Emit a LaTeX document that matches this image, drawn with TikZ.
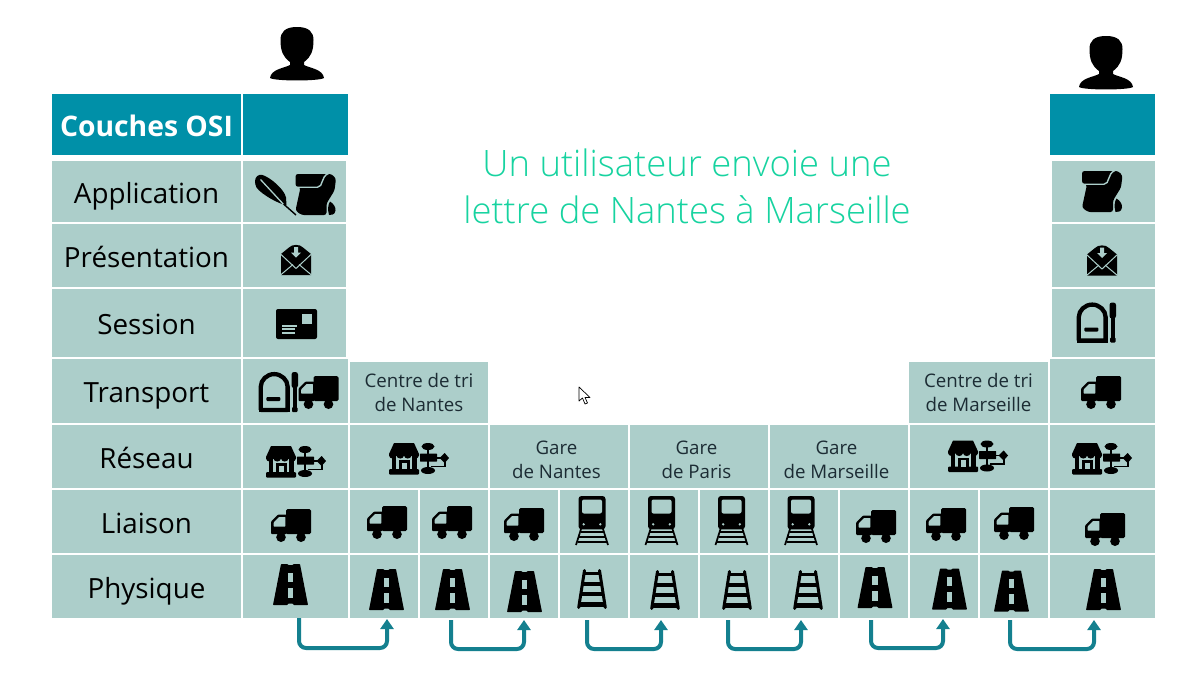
\documentclass[tikz,border=0pt]{standalone}
\usepackage{fontspec}
\setmainfont{Open Sans}
\newfontfamily\lightf{Open Sans Light}
\usetikzlibrary{arrows.meta}
\definecolor{cellc}{HTML}{ACCECA}
\definecolor{headc}{HTML}{0090A8}
\definecolor{titlec}{HTML}{17D3A0}
\definecolor{flowc}{HTML}{14808F}
\definecolor{smallc}{HTML}{1C2C34}
\newcommand{\cellbox}[6][]{%
  \pgfmathsetmacro{\cw}{#4-#2}\pgfmathsetmacro{\ch}{#5-#3}%
  \pgfmathsetmacro{\cx}{(#2+#4)/2}\pgfmathsetmacro{\cy}{(#3+#5)/2}%
  \node[boxbase,minimum width=\cw pt,minimum height=\ch pt] (#2-#3) at (\cx,\cy) {};
  \node[inner sep=0pt,align=center,text=black,#1] (t#2-#3) at (\cx,\cy) {#6};}
\tikzset{
  boxbase/.style={fill=cellc,inner sep=0pt,outer sep=0pt},
  headlab/.style={text=white,font=\fontsize{28.3}{30}\selectfont\bfseries,yshift=-1pt},
  biglab/.style={font=\fontsize{27.8}{30}\selectfont,text height=25pt,text depth=5pt,yshift=-1.5pt},
  smalllab/.style={text=smallc,font=\fontsize{18.7}{24}\selectfont},
  garelab/.style={text=smallc,font=\fontsize{18.7}{24}\selectfont,yshift=-3pt,xshift=-2.5pt},
  flow/.style={draw=flowc,line width=4pt,rounded corners=7pt,-{Triangle[length=10pt,width=13pt]}},
  pics/truck/.style={code={
    \fill[rounded corners=1.5pt] (-5,-16.5) rectangle (20,8.5);
    \fill[rounded corners=1pt] (-20,-4) -- (-20,8.5) -- (-4,8.5) -- (-4,-11) -- (-13,-11) -- cycle;
    \fill[cellc,rounded corners=.5pt] (-17.3,-3) -- (-17.3,1) -- (-5.7,1) -- (-5.7,-8.5) -- (-12,-8.5) -- cycle;
    \fill (-10,11.7) circle (4.8);
    \fill (10,11.7) circle (4.8);
  }},
  pics/road/.style={code={
    \fill[rounded corners=.6pt] (-9.5,-20.5) -- (-3,-20.5) -- (-2.5,-19.5) -- (2.5,-19.5) -- (3,-20.5) -- (9.5,-20.5)
      -- (17.5,20.5) -- (3,20.5) -- (2.5,19) -- (-2.5,19) -- (-3,20.5) -- (-17.5,20.5) -- cycle;
    \fill[cellc] (-2.6,-12) rectangle (2.6,-3);
    \fill[cellc] (-2.6,3) rectangle (2.6,13);
  }},
  pics/rails/.style={code={
    \draw[line width=3pt,line cap=round] (-7.5,-18.5) -- (-13.3,18.5);
    \draw[line width=3pt,line cap=round] (7.5,-18.5) -- (13.3,18.5);
    \fill (-8,-16.7) rectangle (8,-14.2);
    \fill (-9,-6.7) rectangle (9,-2.9);
    \fill (-10.5,3.2) rectangle (10.5,7);
    \fill (-12,13.2) rectangle (12,18);
  }},
  pics/train/.style={code={
    \fill[rounded corners=3pt] (-13.5,-24.5) rectangle (13.5,8.8);
    \fill[cellc,rounded corners=2pt] (-10,-21) rectangle (10,-7);
    \fill[cellc] (-8.3,3.8) circle (1.3);
    \fill[cellc] (8.3,3.8) circle (1.3);
    \draw[line width=1.7pt] (-11,8.5) -- (-16,24.5);
    \draw[line width=1.7pt] (11,8.5) -- (16,24.5);
    \fill (-11.5,10.2) rectangle (11.5,12);
    \fill (-13,15) rectangle (13,17);
    \fill (-14.5,20) rectangle (14.5,22.3);
  }},
  pics/shop/.style={code={
    \fill (-25,-16) -- (-5,-16) -- (0,-5) -- (0,-3.5) arc[start angle=0,end angle=180,x radius=3.75,y radius=3]
       arc[start angle=0,end angle=180,x radius=3.75,y radius=3]
       arc[start angle=0,end angle=180,x radius=3.75,y radius=3]
       arc[start angle=0,end angle=180,x radius=3.75,y radius=3] -- (-30,-5) -- cycle;
    \fill[rounded corners=1pt] (-30,10) rectangle (0,15.5);
    \fill (-27.5,-3) rectangle (-23,11);
    \fill (-7,-3) rectangle (-2.5,11);
    \fill (-20.5,1) rectangle (-9.5,11);
    \fill[cellc] (-17.5,3.5) rectangle (-12.5,10);
    \draw[line width=1.6pt] (9,-12) -- (9,11);
    \fill (9,-12.5) ellipse [x radius=6.5,y radius=3.5];
    \fill (9,11.5) ellipse [x radius=7,y radius=3.5];
    \fill[rounded corners=.5pt] (1,-5.5) rectangle (18,2.5);
    \draw[line width=1.6pt] (18,-1) -- (23,-1);
    \draw[line width=1.6pt] (25.7,0) |- (12,7.5);
    \fill (20.5,-1) -- (25.7,-6) -- (30,-1) -- (25.7,4) -- cycle;
  }},
  pics/envel/.style={code={
    \fill (-15,-5.5) -- (-7,-12) .. controls (-4,-15.5) and (4,-15.5) .. (7,-12) -- (15,-5.5) -- (15,15.5) -- (-15,15.5) -- cycle;
    \draw[cellc,line width=1pt] (-15.5,-5.5) -- (0,9) -- (15.5,-5.5);
    \draw[cellc,line width=1pt] (-15.5,15.5) -- (-3,5);
    \draw[cellc,line width=1pt] (15.5,15.5) -- (3,5);
    \fill[cellc] (-2,-12.5) -- (2,-12.5) -- (2,-7) -- (5,-7) -- (0,-2) -- (-5,-7) -- (-2,-7) -- cycle;
  }},
  pics/postcard/.style={code={
    \fill[rounded corners=2pt] (-20.5,-15) rectangle (20.5,15);
    \fill[cellc] (5.5,-10) rectangle (15.5,0);
    \draw[cellc,line width=1.8pt] (-14.5,1.7) -- (.5,1.7);
    \draw[cellc,line width=1.8pt] (-14.5,5.2) -- (-2,5.2);
    \draw[cellc,line width=1.8pt] (-14.5,8.7) -- (-2,8.7);
  }},
  pics/mailbox/.style={code={
    \draw[line width=4.3pt,rounded corners=1pt] (-18.2,18) -- (-18.2,-4.5) arc[start angle=180,end angle=360,radius=13.4] -- (8.6,18) -- cycle;
    \fill[rounded corners=1pt] (-12.7,5) rectangle (1.3,9);
    \fill[rounded corners=2.5pt] (12.5,-20) rectangle (19,-4);
    \draw[line width=4pt] (15.7,-6) -- (15.7,18);
    \fill[rounded corners=1pt] (13,15) rectangle (18.5,20);
    \fill (-20.3,16) rectangle (10.7,20);
  }},
  pics/person/.style={code={
    \fill (0,-27) .. controls (-12,-27) and (-16.5,-22) .. (-16.5,-14)
       .. controls (-16.5,-3) and (-14,3) .. (-7,8) -- (-7,11)
       .. controls (-12,14) and (-26,15) .. (-27,24) .. controls (-22,27.3) and (22,27.3) .. (27,24)
       .. controls (26,15) and (12,14) .. (7,11) -- (7,8)
       .. controls (14,3) and (16.5,-3) .. (16.5,-14)
       .. controls (16.5,-22) and (12,-27) .. (0,-27);
  }},
  pics/quill/.style={code={
    \fill (-20.5,-13) .. controls (-20.5,-18) and (-17,-20.5) .. (-13,-19.5)
       .. controls (-5,-17) and (9,-5) .. (10.5,3) -- (11,10.5)
       .. controls (4,10) and (-14,0) .. (-19,-7) .. controls (-20,-9) and (-20.5,-11) .. (-20.5,-13);
    \draw[cellc,line width=1.3pt] (-15,-15) -- (10,12);
    \draw[line width=1.4pt] (8,9.5) -- (20.5,20.5);
  }},
  pics/scroll/.style={code={
    \fill[rounded corners=2.5pt] (-20,-20.5) -- (16,-20.5) -- (20.5,-16) -- (19,-4) -- (11,9) -- (11,20.5) -- (-14,20.5) -- (-20,16) -- (-15,-7) -- (-20,-8) -- cycle;
    \draw[cellc,line width=1.4pt] (-19,-7.3) -- (2,-7.3) .. controls (8,-7.3) and (5,-18) .. (13,-21);
    \fill (14.5,7) .. controls (18,9) and (20.5,13) .. (20,16) .. controls (19.5,20) and (16,21) .. (13.5,20.5) .. controls (12,15) and (12.5,10) .. (14.5,7);
  }},
}
\begin{document}
\begin{tikzpicture}[x=1pt,y=-1pt]
\useasboundingbox (0,0) rectangle (1200,691);
\fill[white] (0,0) rectangle (1200,691);
% header
\tikzset{boxbase/.append style={fill=headc}}
\cellbox[headlab]{52}{94}{241}{155}{Couches OSI}
\cellbox{243}{94}{348}{155}{}
\cellbox{1050}{94}{1155}{155}{}
\tikzset{boxbase/.append style={fill=cellc}}
% label column
\cellbox[biglab]{52}{161}{241}{222}{Application}
\cellbox[biglab]{52}{224}{241}{287}{Présentation}
\cellbox[biglab]{52}{289}{241}{357}{Session}
\cellbox[biglab]{52}{359}{241}{423}{Transport}
\cellbox[biglab]{52}{425}{241}{488}{Réseau}
\cellbox[biglab]{52}{490}{241}{553}{Liaison}
\cellbox[biglab]{52}{555}{241}{618}{Physique}
% sender column
\cellbox{243}{161}{346}{222}{}
\cellbox{243}{224}{346}{287}{}
\cellbox{243}{289}{346}{357}{}
\cellbox{243}{359}{348}{423}{}
\cellbox{243}{425}{348}{488}{}
\cellbox{243}{490}{348}{553}{}
\cellbox{243}{555}{348}{618}{}
% receiver column
\cellbox{1052}{161}{1155}{222}{}
\cellbox{1052}{224}{1155}{287}{}
\cellbox{1052}{289}{1155}{357}{}
\cellbox{1050}{359}{1155}{423}{}
\cellbox{1050}{425}{1155}{488}{}
\cellbox{1050}{490}{1155}{553}{}
\cellbox{1050}{555}{1155}{618}{}
% sorting centres
\cellbox[smalllab]{350}{362}{488}{423}{Centre de tri\\de Nantes}
\cellbox[smalllab]{909}{362}{1048}{423}{Centre de tri\\de Marseille}
% network row
\cellbox{350}{425}{488}{488}{}
\cellbox[garelab]{490}{425}{628}{488}{Gare\\de Nantes}
\cellbox[garelab]{630}{425}{768}{488}{Gare\\de Paris}
\cellbox[garelab]{770}{425}{908}{488}{Gare\\de Marseille}
\cellbox{910}{425}{1048}{488}{}
% link and physical rows
\foreach \xa/\xb in {350/418,420/488,490/558,560/628,630/698,700/768,770/838,840/908,910/978,980/1048}{
  \cellbox{\xa}{490}{\xb}{553}{}
  \cellbox{\xa}{555}{\xb}{618}{}
}
% title
\node[inner sep=0pt,align=center,text=titlec,font=\lightf\fontsize{36.4}{47}\selectfont] (title) at (687,186.5) {Un utilisateur envoie une\\lettre de Nantes à Marseille};
% icons
\pic at (297,54) {person};
\pic at (1106,63) {person};
\pic at (275.5,194.5) {quill};
\pic at (315.5,194.5) {scroll};
\pic at (1102,191.5) {scroll};
\pic at (296,259.5) {envel};
\pic at (1102,260) {envel};
\pic at (296.5,324) {postcard};
\pic at (279,392) {mailbox};
\pic at (318.5,392.5) {truck};
\pic at (1097,322.5) {mailbox};
\pic at (1101,392.5) {truck};
\foreach \p in {{296,462},{419,459},{978,456.5},{1102,459}} \pic at (\p) {shop};
\foreach \p in {{291,525.5},{387,522.5},{452,522.5},{524,524.5},{876,526.5},{946,524.5},{1014,523.5},{1105,529.5}} \pic at (\p) {truck};
\foreach \p in {{592,520.5},{661.5,520.5},{731.5,520.5},{801,520.5}} \pic at (\p) {train};
\foreach \p in {{290.5,584.5},{386.5,589.5},{452.5,589.5},{524.5,591.5},{875,587.5},{949.5,589},{1011.5,591},{1103.5,589.5}} \pic at (\p) {road};
\foreach \p in {{592,589},{665,590},{737,590},{808,590}} \pic at (\p) {rails};
% cursor
\draw[fill=white,line width=.7pt,line join=round] (579,387) -- (579,401) -- (582.5,398) -- (585,404) -- (587.5,403) -- (585,397.5) -- (590,397.5) -- cycle;
% connectors
\coordinate (s1) at (299,618); \coordinate (e1) at (387,619);
\coordinate (s2) at (451,620); \coordinate (e2) at (524,620);
\coordinate (s3) at (587,620); \coordinate (e3) at (661,620);
\coordinate (s4) at (728,620); \coordinate (e4) at (801,620);
\coordinate (s5) at (871,620); \coordinate (e5) at (943,619);
\coordinate (s6) at (1010,620); \coordinate (e6) at (1094,620);
\foreach \n in {1,...,6}{
  \draw[flow] (s\n) -- ([yshift=-29pt]s\n |- e\n) -- ([yshift=-29pt]e\n) -- (e\n);
}
\end{tikzpicture}
\end{document}
